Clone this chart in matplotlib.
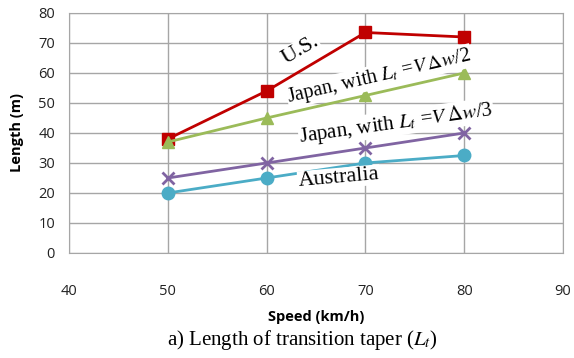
import matplotlib.pyplot as plt

plt.rcParams['mathtext.fontset'] = 'stix'

speed = [50, 60, 70, 80]
us = [38, 54, 73.5, 72]
japan_half = [37, 45, 52.5, 60]
japan_third = [25, 30, 35, 40]
australia = [20, 25, 30, 32.5]

fig = plt.figure(figsize=(5.74, 3.58), dpi=100)
ax = fig.add_axes([0.1202, 0.2933, 0.8606, 0.6704])

ax.plot(speed, us, color='#C00000', marker='s', markersize=9, lw=2)
ax.plot(speed, japan_half, color='#9BBB59', marker='^', markersize=9, lw=2)
ax.plot(speed, japan_third, color='#8064A2', marker='x', markersize=8, mew=2, lw=2)
ax.plot(speed, australia, color='#4BACC6', marker='o', markersize=9, lw=2)

ax.set_xlim(40, 90)
ax.set_ylim(0, 80)
ax.set_xticks(range(40, 91, 10))
ax.set_yticks(range(0, 81, 10))
ax.grid(True, color='#A6A6A6', lw=1)
ax.set_axisbelow(True)
for s in ax.spines.values():
    s.set_color('#A6A6A6')
ax.tick_params(length=0, labelsize=10.5, colors='#222222')
ax.tick_params(axis='x', pad=22)
ax.tick_params(axis='y', pad=10)
for lab in ax.get_xticklabels() + ax.get_yticklabels():
    lab.set_fontfamily('Open Sans')

ax.set_xlabel('Speed (km/h)', fontfamily='Open Sans', fontweight='bold', fontsize=10.5, labelpad=8)
ax.set_ylabel('Length (m)', fontfamily='Open Sans', fontweight='bold', fontsize=10.5, labelpad=10)

box = dict(facecolor='white', edgecolor='none', pad=0.5)
serif = dict(fontfamily='Liberation Serif', ha='center', va='center',
             rotation_mode='anchor', bbox=box)
ax.text(63.4, 67.7, 'U.S.', rotation=30, fontsize=16, **serif)
ax.text(71.4, 58.9, r'Japan, with $L_t$ =$V\,\Delta w$/2', rotation=13, fontsize=14.5, **serif)
ax.text(73.1, 43.3, r'Japan, with $L_t$ =$V\,\Delta w$/3', rotation=8, fontsize=15, **serif)
ax.text(67.3, 25, 'Australia', rotation=5, fontsize=16, **serif)

fig.text(302 / 574, 1 - 340 / 358, r'a) Length of transition taper ($L_t$)', ha='center', va='center',
         fontfamily='Liberation Serif', fontsize=15)

fig.savefig('out.png', dpi=100)
